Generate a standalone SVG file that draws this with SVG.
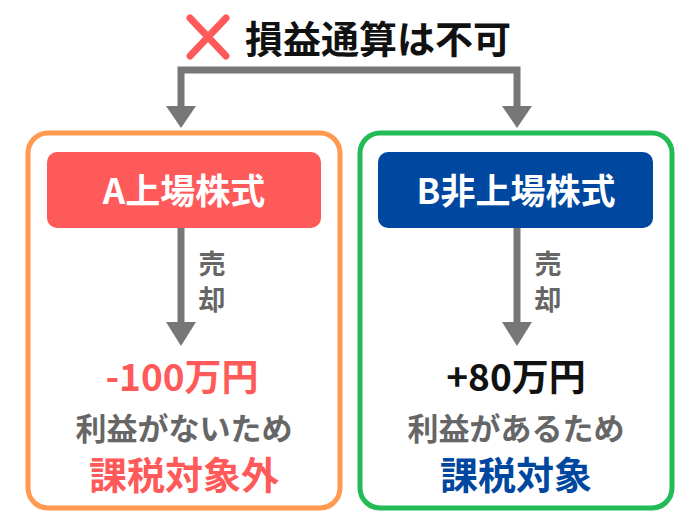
<svg xmlns="http://www.w3.org/2000/svg" width="700" height="525" viewBox="0 0 700 525">
<style>
text{font-family:"Noto Sans CJK JP","Noto Sans",sans-serif;font-weight:bold;text-anchor:middle}
.ln{stroke:#777;stroke-width:7;fill:none}
.ah{fill:#777}
.sm{font-size:27px;fill:#666}
</style>
<rect width="700" height="525" fill="#fff"/>
<g id="title">
<path d="M190 18 L226 56 M226 18 L190 56" stroke="#FF5A5A" stroke-width="7" stroke-linecap="round"/>
<text x="378" y="53" font-size="38" fill="#111">損益通算は不可</text>
</g>
<g id="boxA">
<rect x="28" y="133" width="312" height="375" rx="20" fill="#fff" stroke="#FF9A50" stroke-width="5"/>
<rect x="47" y="152" width="274" height="76" rx="10" fill="#FF5A5A"/>
<text x="184" y="204" font-size="35" fill="#fff">A上場株式</text>
<text x="182" y="391" font-size="37" fill="#FF5A5A">-100万円</text>
<text x="184" y="440" font-size="31" fill="#666">利益がないため</text>
<text x="184" y="489" font-size="38" fill="#FF5A5A">課税対象外</text>
</g>
<g id="boxB">
<rect x="360" y="133" width="312" height="375" rx="20" fill="#fff" stroke="#22BB55" stroke-width="5"/>
<rect x="378" y="152" width="275" height="76" rx="10" fill="#0047A0"/>
<text x="516" y="204" font-size="35" fill="#fff">B非上場株式</text>
<text x="516" y="391" font-size="37" fill="#111">+80万円</text>
<text x="516" y="440" font-size="31" fill="#666">利益があるため</text>
<text x="516" y="489" font-size="38" fill="#0047A0">課税対象</text>
</g>
<g id="connectors">
<path class="ln" d="M181 115 V70 H517 V115"/>
<path class="ah" d="M166 106 H196 L181 128 Z"/>
<path class="ah" d="M502 106 H532 L517 128 Z"/>
<path class="ln" d="M181 228 V330"/>
<path class="ah" d="M166 322 H196 L181 346 Z"/>
<path class="ln" d="M517 228 V330"/>
<path class="ah" d="M502 322 H532 L517 346 Z"/>
<text class="sm" x="212" y="274">売</text>
<text class="sm" x="212" y="310">却</text>
<text class="sm" x="548" y="274">売</text>
<text class="sm" x="548" y="310">却</text>
</g>
</svg>
